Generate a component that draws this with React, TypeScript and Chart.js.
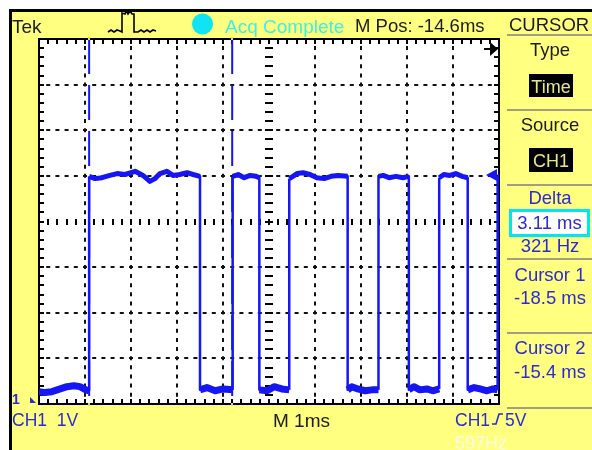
import React, { useEffect, useRef } from "react";
import { Chart, registerables } from "chart.js";

Chart.register(...registerables);

// ---- scope settings ----
const TIME_MIN = -19.6; // ms at left edge (M Pos -14.6 ms, 1 ms/div)
const TIME_DIV = 1;
const X_DIVS = 10;
const VOLT_MIN = -0.07; // V at bottom edge (1 V/div, ground marker near bottom)
const VOLT_DIV = 1;
const Y_DIVS = 8;

// ---- CH1 trace (time in ms, level in V) ----
const TRACE_TIME_MS = [
  -19.6, -19.47, -19.32, -19.14, -18.99, -18.84, -18.71, -18.58, -18.51,
  -18.51, -18.38, -18.23, -18.06, -17.9, -17.73, -17.51, -17.34, -17.19, -17.08, -16.97, -16.82, -16.69, -16.54, -16.38, -16.25, -16.1,
  -16.1, -15.95, -15.77, -15.6, -15.39,
  -15.39, -15.27, -15.14, -15.01, -14.88, -14.81,
  -14.81, -14.64, -14.49, -14.32, -14.16,
  -14.16, -14.08, -13.99, -13.86, -13.71, -13.56, -13.4, -13.25, -13.1, -12.89,
  -12.89, -12.8, -12.67, -12.51, -12.36, -12.22,
  -12.22, -12.12, -11.99, -11.84, -11.69, -11.56,
  -11.56, -11.45, -11.32, -11.17, -11.04, -10.9,
  -10.9, -10.8, -10.67, -10.54, -10.4, -10.28,
  -10.28, -10.14, -10.01, -9.86, -9.73, -9.63,
  -9.63, -9.6,
];
const TRACE_VOLTS = [
  0.2, 0.18, 0.2, 0.26, 0.31, 0.33, 0.31, 0.24, 0.22,
  4.92, 4.87, 4.89, 4.94, 4.98, 4.96, 5.03, 4.94, 4.81, 4.87, 4.98, 5.03, 4.94, 4.96, 5.0, 4.96, 4.92,
  0.24, 0.29, 0.22, 0.26, 0.24,
  4.92, 4.96, 4.89, 4.94, 4.92, 4.89,
  0.24, 0.22, 0.31, 0.26, 0.24,
  4.87, 4.92, 4.98, 5.0, 4.96, 4.89, 4.87, 4.92, 4.94, 4.92,
  0.24, 0.31, 0.26, 0.22, 0.24, 0.24,
  4.92, 4.94, 4.89, 4.92, 4.89, 4.92,
  0.24, 0.31, 0.24, 0.26, 0.22, 0.26,
  4.89, 4.96, 4.94, 4.98, 4.92, 4.89,
  0.24, 0.29, 0.26, 0.22, 0.26, 0.24,
  4.92, 4.92,
];

// ---- cursors / trigger ----
const CURSOR_TIMES_MS = [-18.51, -15.4];
const TRIGGER_LEVEL_V = 4.95;

// ---- readouts ----
const TOP_LABELS = { tek: "Tek", acq: "Acq Complete", mpos: "M Pos: -14.6ms", menu: "CURSOR" };
const PANEL_LABELS = ["Type", "Time", "Source", "CH1", "Delta", "3.11 ms", "321 Hz", "Cursor 1", "-18.5 ms", "Cursor 2", "-15.4 ms"];
const BOTTOM_LABELS = { ch: "CH1  1V", time: "M 1ms", trigCh: "CH1", trigLvl: "5V", freq: "597Hz" };

const FONT = '"Liberation Sans", Arial, sans-serif';
const YELLOW = "#ffff80";
const DARK = "#1c1c1c";
const BLUE = "#2b2bd2";
const TRACE = "#1616f4";

const Txt = ({ x, b, s = 18.5, c = DARK, w, bold, children }: any) => (
  <div
    style={{
      position: "absolute",
      left: x,
      top: b - 0.8465 * s,
      width: w,
      textAlign: w ? "center" : "left",
      fontSize: s,
      fontWeight: bold ? 700 : 400,
      lineHeight: `${s}px`,
      color: c,
      fontFamily: FONT,
      whiteSpace: "nowrap",
    }}
  >
    {children}
  </div>
);

const Sep = ({ y }: any) => (
  <div style={{ position: "absolute", left: 507, top: y, width: 85, height: 2, background: "#a09f86" }} />
);

const scopePlugin = {
  id: "scope",
  beforeDraw(chart: any) {
    const { ctx, chartArea: a } = chart;
    ctx.save();
    ctx.fillStyle = "#ffffff";
    ctx.fillRect(a.left, a.top, a.right - a.left, a.bottom - a.top);
    ctx.restore();
  },
  beforeDatasetsDraw(chart: any) {
    const { ctx, chartArea: a, scales } = chart;
    const xs = scales.x;
    const ys = scales.y;
    ctx.save();
    ctx.strokeStyle = "#000";
    ctx.lineWidth = 2;
    const xc = Math.round(xs.getPixelForValue(TIME_MIN + (X_DIVS / 2) * TIME_DIV));
    const yc = Math.round(ys.getPixelForValue(VOLT_MIN + (Y_DIVS / 2) * VOLT_DIV));
    ctx.beginPath();
    for (let k = 0; k <= X_DIVS * 5; k++) {
      const px = Math.round(xs.getPixelForValue(TIME_MIN + (k * TIME_DIV) / 5));
      ctx.moveTo(px, a.top);
      ctx.lineTo(px, a.top + 5);
      ctx.moveTo(px, a.bottom);
      ctx.lineTo(px, a.bottom - 5);
      ctx.moveTo(px, yc - 3);
      ctx.lineTo(px, yc + 3);
    }
    for (let k = 0; k <= Y_DIVS * 5; k++) {
      const py = Math.round(ys.getPixelForValue(VOLT_MIN + (k * VOLT_DIV) / 5));
      ctx.moveTo(a.left, py);
      ctx.lineTo(a.left + 5, py);
      ctx.moveTo(a.right, py);
      ctx.lineTo(a.right - 5, py);
      ctx.moveTo(xc - 4, py);
      ctx.lineTo(xc + 4, py);
    }
    ctx.stroke();
    ctx.lineWidth = 2;
    ctx.strokeRect(a.left, a.top, a.right - a.left, a.bottom - a.top);
    ctx.restore();
  },
  afterDatasetsDraw(chart: any) {
    const { ctx, chartArea: a, scales } = chart;
    const xs = scales.x;
    const ys = scales.y;
    ctx.save();
    // trigger level marker
    const ty = ys.getPixelForValue(TRIGGER_LEVEL_V);
    ctx.fillStyle = TRACE;
    ctx.beginPath();
    ctx.moveTo(a.right - 13, ty);
    ctx.lineTo(a.right - 2, ty - 6);
    ctx.lineTo(a.right - 2, ty + 6);
    ctx.closePath();
    ctx.fill();
    // trigger position (off screen right)
    ctx.fillStyle = "#000";
    ctx.fillRect(a.right - 15, a.top + 9, 8, 2);
    ctx.beginPath();
    ctx.moveTo(a.right - 9, a.top + 3);
    ctx.lineTo(a.right - 1, a.top + 10);
    ctx.lineTo(a.right - 9, a.top + 17);
    ctx.closePath();
    ctx.fill();
    // cursor end markers
    ctx.fillStyle = "#f0e020";
    CURSOR_TIMES_MS.forEach((t) => {
      const px = Math.round(xs.getPixelForValue(t));
      ctx.fillRect(px - 1, a.top - 2, 2, 3);
      ctx.fillRect(px - 1, a.bottom - 1, 2, 3);
    });
    ctx.restore();
  },
};

const gridColor = (count: number) => (c: any) => {
  const i = c.index;
  if (i === 0 || i === count || i === count / 2) return "rgba(0,0,0,0)";
  return "#111";
};

export default function App() {
  const ref = useRef<HTMLCanvasElement>(null);
  useEffect(() => {
    const traceData = TRACE_TIME_MS.map((t, i) => ({ x: t, y: TRACE_VOLTS[i] }));
    const yMax = VOLT_MIN + Y_DIVS * VOLT_DIV;
    const cursorSets = CURSOR_TIMES_MS.map((t) => ({
      data: [
        { x: t, y: yMax },
        { x: t, y: VOLT_MIN },
      ],
      borderColor: TRACE,
      borderWidth: 2,
      borderDash: [35, 11],
      pointRadius: 0,
      order: 2,
    }));
    const chart = new Chart(ref.current as HTMLCanvasElement, {
      type: "line",
      data: {
        datasets: [
          {
            data: traceData,
            borderColor: TRACE,
            borderWidth: 5,
            borderJoinStyle: "round",
            pointRadius: 0,
            tension: 0,
            order: 1,
            segment: {
              borderWidth: (c: any) =>
                c.p0.parsed.x === c.p1.parsed.x ? 2.5 : c.p0.parsed.y < 2.5 ? 7 : 5,
            },
          } as any,
          ...cursorSets,
        ],
      },
      options: {
        animation: false,
        responsive: false,
        maintainAspectRatio: false,
        layout: { padding: { left: 39, top: 39, right: 93, bottom: 46 } },
        plugins: { legend: { display: false }, tooltip: { enabled: false } },
        scales: {
          x: {
            type: "linear",
            min: TIME_MIN,
            max: TIME_MIN + X_DIVS * TIME_DIV,
            afterBuildTicks: (s: any) => {
              s.ticks = Array.from({ length: X_DIVS + 1 }, (_, k) => ({ value: TIME_MIN + k * TIME_DIV }));
            },
            ticks: { display: false },
            grid: { drawTicks: false, lineWidth: 2, color: gridColor(X_DIVS) },
            border: { display: false, dash: [4, 5.12], dashOffset: 2 },
          },
          y: {
            type: "linear",
            min: VOLT_MIN,
            max: yMax,
            afterBuildTicks: (s: any) => {
              s.ticks = Array.from({ length: Y_DIVS + 1 }, (_, k) => ({ value: VOLT_MIN + k * VOLT_DIV }));
            },
            ticks: { display: false },
            grid: { drawTicks: false, lineWidth: 2, color: gridColor(Y_DIVS) },
            border: { display: false, dash: [4, 5.2], dashOffset: 2 },
          },
        },
      } as any,
      plugins: [scopePlugin],
    });
    return () => chart.destroy();
  }, []);

  return (
    <div style={{ position: "absolute", left: 0, top: 0, width: 592, height: 450, overflow: "hidden", background: "#fff" }}>
      <div
        style={{
          position: "absolute",
          left: 9,
          top: 9,
          width: 583,
          height: 441,
          background: YELLOW,
          borderTop: "3px solid #000",
          borderLeft: "3px solid #000",
          boxSizing: "border-box",
        }}
      />
      <canvas ref={ref} width={592} height={450} style={{ position: "absolute", left: 0, top: 0, width: 592, height: 450 }} />

      {/* top bar */}
      <Txt x={12} b={33} s={19}>{TOP_LABELS.tek}</Txt>
      <svg style={{ position: "absolute", left: 0, top: 0 }} width={592} height={40}>
        <path
          d="M108,32 l3,-2 l3,2 l3,-2 l3,1 l2,1 L122,13 L125,14 L126,11 L128,14 L130,11 L132,14 L134,14 L134,32 L138,32 l3,-2 l3,2 l3,-2 l3,2 l3,-2 l3,1"
          fill="none"
          stroke="#000"
          strokeWidth={1.6}
        />
        <circle cx={202.5} cy={24} r={10.5} fill="#10e4f2" />
      </svg>
      <Txt x={225} b={33} s={19} c="#3ef0e4">{TOP_LABELS.acq}</Txt>
      <Txt x={355} b={33} s={18.5}>{TOP_LABELS.mpos}</Txt>
      <Txt x={509} b={31.5} s={18.5}>{TOP_LABELS.menu}</Txt>
      <Sep y={34} />

      {/* side menu */}
      <Txt x={508} w={84} b={57}>{PANEL_LABELS[0]}</Txt>
      <div style={{ position: "absolute", left: 529, top: 74, width: 44, height: 23, background: "#000" }} />
      <Txt x={529} w={44} b={93} s={18} c="#e6e68c">{PANEL_LABELS[1]}</Txt>
      <Sep y={109} />
      <Txt x={508} w={84} b={132}>{PANEL_LABELS[2]}</Txt>
      <div style={{ position: "absolute", left: 529, top: 148, width: 44, height: 24, background: "#000" }} />
      <Txt x={529} w={44} b={167} s={18} c="#e6e68c">{PANEL_LABELS[3]}</Txt>
      <Sep y={184} />
      <Txt x={508} w={84} b={205} c={BLUE}>{PANEL_LABELS[4]}</Txt>
      <div
        style={{
          position: "absolute",
          left: 509,
          top: 209,
          width: 81,
          height: 28,
          border: "3px solid #00e4f4",
          background: "#fff",
          boxSizing: "border-box",
        }}
      />
      <Txt x={509} w={81} b={230} c={BLUE}>{PANEL_LABELS[5]}</Txt>
      <Txt x={508} w={84} b={253} c={BLUE}>{PANEL_LABELS[6]}</Txt>
      <Sep y={258} />
      <Txt x={508} w={84} b={282} c={BLUE}>{PANEL_LABELS[7]}</Txt>
      <Txt x={508} w={84} b={305} c={BLUE}>{PANEL_LABELS[8]}</Txt>
      <Sep y={332} />
      <Txt x={508} w={84} b={355} c={BLUE}>{PANEL_LABELS[9]}</Txt>
      <Txt x={508} w={84} b={379} c={BLUE}>{PANEL_LABELS[10]}</Txt>
      <Sep y={407} />

      {/* ground marker */}
      <Txt x={12} b={404} s={14} bold c={BLUE}>1</Txt>
      <svg style={{ position: "absolute", left: 29, top: 396 }} width={8} height={8}>
        <path d="M1,1 L1,7 L7,7 Z" fill={BLUE} />
      </svg>

      {/* bottom bar */}
      <Txt x={12} b={427} s={17.5} c={BLUE}>
        <span style={{ whiteSpace: "pre" }}>{BOTTOM_LABELS.ch}</span>
      </Txt>
      <Txt x={273} b={427} s={19}>{BOTTOM_LABELS.time}</Txt>
      <Txt x={455} b={427} s={17.5} c={BLUE}>
        {BOTTOM_LABELS.trigCh}
        <svg width={13} height={14} style={{ margin: "0 1px", verticalAlign: "baseline" }}>
          <path d="M1,12 L5,12 L8,2 L12,2" fill="none" stroke={BLUE} strokeWidth={1.6} />
        </svg>
        {BOTTOM_LABELS.trigLvl}
      </Txt>
      <Txt x={455} b={449} s={18} c="#fbfbe6">{BOTTOM_LABELS.freq}</Txt>
    </div>
  );
}
